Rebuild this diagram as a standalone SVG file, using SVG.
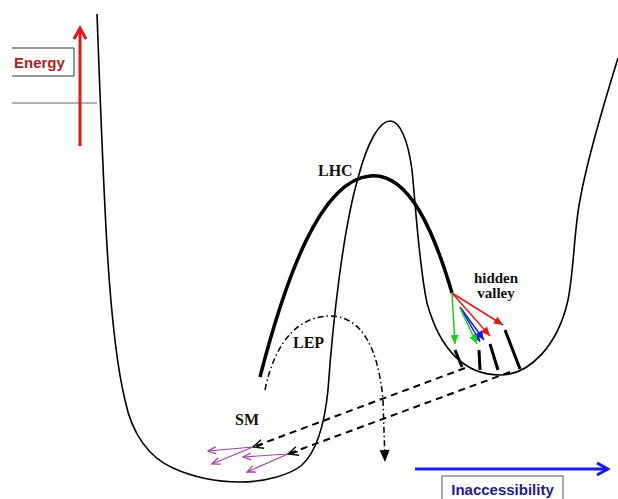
<svg xmlns="http://www.w3.org/2000/svg" width="618" height="499" viewBox="0 0 618 499">
<style>
.thin{fill:none;stroke:#000;stroke-width:1.6}
.thick{fill:none;stroke:#000;stroke-width:3.5}
.lbl{font-family:"Liberation Serif",serif;font-weight:bold;fill:#111}
.sans{font-family:"Liberation Sans",Arial,sans-serif;font-weight:bold}
.dash{fill:none;stroke:#000;stroke-width:2;stroke-dasharray:7 5}
.pur{fill:none;stroke:#a040a8;stroke-width:1.2}
.bar{stroke:#000;stroke-width:3;stroke-linecap:butt}
</style>
<defs>
<marker id="vred" viewBox="-12 -7 14 14" markerWidth="14" markerHeight="14" refX="0" refY="0" orient="auto" markerUnits="userSpaceOnUse"><path d="M-11,-6 L0,0 L-11,6" fill="none" stroke="#e8141c" stroke-width="3"/></marker>
<marker id="vblue" viewBox="-12 -7 14 14" markerWidth="14" markerHeight="14" refX="0" refY="0" orient="auto" markerUnits="userSpaceOnUse"><path d="M-11,-6 L0,0 L-11,6" fill="none" stroke="#1a1ae6" stroke-width="3"/></marker>
<marker id="blk" viewBox="-13 -6 14 12" markerWidth="14" markerHeight="12" refX="0" refY="0" orient="auto" markerUnits="userSpaceOnUse"><path d="M-12,-5 L0,0 L-12,5 Z" fill="#000"/></marker>
<marker id="yopen" viewBox="-12 -7 14 14" markerWidth="14" markerHeight="14" refX="0" refY="0" orient="auto" markerUnits="userSpaceOnUse"><path d="M-10,-5 L0,0 L-10,4 M-4,-1 L-10,-1" fill="none" stroke="#000" stroke-width="1.4"/></marker>
<marker id="ppl" viewBox="-10 -5 11 10" markerWidth="11" markerHeight="10" refX="0" refY="0" orient="auto" markerUnits="userSpaceOnUse"><path d="M-8,-3.5 L0,0 L-8,3.5" fill="none" stroke="#a040a8" stroke-width="1.3"/></marker>
<marker id="hr" viewBox="-10 -5 11 10" markerWidth="11" markerHeight="10" refX="0" refY="0" orient="auto" markerUnits="userSpaceOnUse"><path d="M-9,-4 L0,0 L-9,4 Z" fill="#e81818"/></marker>
<marker id="hb" viewBox="-10 -5 11 10" markerWidth="11" markerHeight="10" refX="0" refY="0" orient="auto" markerUnits="userSpaceOnUse"><path d="M-9,-4 L0,0 L-9,4 Z" fill="#1a1ae0"/></marker>
<marker id="hg" viewBox="-10 -5 11 10" markerWidth="11" markerHeight="10" refX="0" refY="0" orient="auto" markerUnits="userSpaceOnUse"><path d="M-9,-4 L0,0 L-9,4 Z" fill="#18d018"/></marker>
</defs>

<g id="energy-axis">
<path d="M12,48 L74,48 L74,76 L12,76" fill="none" stroke="#333" stroke-width="1"/>
<text x="14" y="68" class="sans" font-size="15" fill="#b01c22">Energy</text>
<line x1="12" y1="103" x2="97" y2="103" stroke="#666" stroke-width="1"/>
<line x1="80" y1="146" x2="80" y2="28" stroke="#e8141c" stroke-width="3" marker-end="url(#vred)"/>
</g>

<g id="inaccessibility-axis">
<line x1="415" y1="469" x2="608" y2="469" stroke="#1a1ae6" stroke-width="3" marker-end="url(#vblue)"/>
<rect x="442" y="476" width="121" height="30" fill="none" stroke="#555" stroke-width="1"/>
<text x="502.5" y="495" class="sans" font-size="15" fill="#1c1c8a" text-anchor="middle">Inaccessibility</text>
</g>

<g id="potential">
<path class="thin" d="M97,14 C104,200 108,330 125,400 C132,435 150,458 173,468 C195,478 215,482 240,482 C265,482 290,475 302,465 C318,450 325,420 328,390 C333,320 343,230 358,178 C368,140 380,121 390,121 C400,121 408,140 412,170 C416,210 419,265 427,303 C440,350 465,375 500,375 C530,375 558,345 568,300 C574,270 574,230 580,200 C587,160 605,100 618,58"/>
</g>

<g id="lhc">
<path class="thick" d="M260,377 C285,280 320,180 370,176 C410,172 435,235 452,293"/>
<text x="318" y="176" class="lbl" font-size="16">LHC</text>
</g>

<g id="lep">
<path d="M265,390 C275,340 300,316 330,316 C360,316 378,345 383,400 L385,462" fill="none" stroke="#000" stroke-width="1.5" stroke-dasharray="6 3 1.5 3" marker-end="url(#blk)"/>
<text x="293" y="348" class="lbl" font-size="16">LEP</text>
</g>

<g id="sm">
<text x="235" y="425" class="lbl" font-size="16">SM</text>
</g>

<g id="hidden-valley">
<text x="496" y="283" class="lbl" font-size="15" text-anchor="middle">hidden</text>
<text x="496" y="298" class="lbl" font-size="15" text-anchor="middle">valley</text>
<line class="bar" x1="455" y1="350" x2="462" y2="367"/>
<line class="bar" x1="479" y1="350" x2="480" y2="370"/>
<line class="bar" x1="490" y1="344" x2="498" y2="370"/>
<line class="bar" x1="505" y1="330" x2="520" y2="369"/>
</g>

<g id="connectors">
<line x1="452" y1="293" x2="503" y2="325" stroke="#e81818" stroke-width="1.5" marker-end="url(#hr)"/>
<line x1="452" y1="293" x2="490" y2="336" stroke="#e81818" stroke-width="1.5" marker-end="url(#hr)"/>
<line x1="460" y1="307" x2="484" y2="340" stroke="#1a1ae0" stroke-width="1.5" marker-end="url(#hb)"/>
<line x1="462" y1="310" x2="480" y2="342" stroke="#1a1ae0" stroke-width="1.5" marker-end="url(#hb)"/>
<line x1="452" y1="293" x2="455" y2="344" stroke="#18d018" stroke-width="1.5" marker-end="url(#hg)"/>
<line x1="460" y1="308" x2="477" y2="344" stroke="#18d018" stroke-width="1.5" marker-end="url(#hg)"/>
<line class="dash" x1="465" y1="368" x2="253" y2="447" marker-end="url(#yopen)"/>
<line class="dash" x1="510" y1="372" x2="288" y2="454" marker-end="url(#yopen)"/>
<line class="pur" x1="253" y1="447" x2="208" y2="451" marker-end="url(#ppl)"/>
<line class="pur" x1="253" y1="447" x2="212" y2="464" marker-end="url(#ppl)"/>
<line class="pur" x1="288" y1="454" x2="243" y2="457" marker-end="url(#ppl)"/>
<line class="pur" x1="288" y1="454" x2="247" y2="472" marker-end="url(#ppl)"/>
</g>
</svg>
